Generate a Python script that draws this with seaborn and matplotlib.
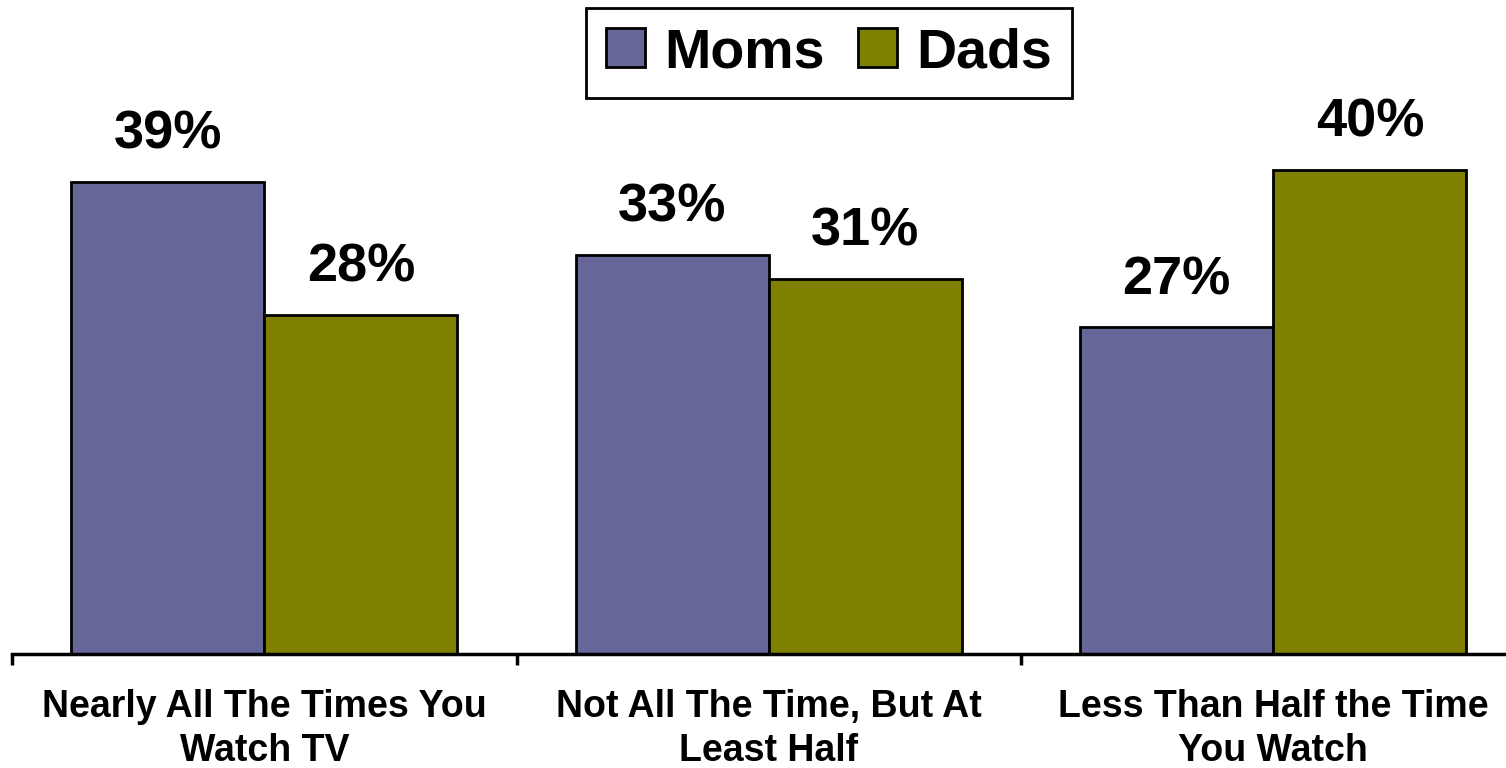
import matplotlib
matplotlib.use("Agg")
import matplotlib.pyplot as plt
import seaborn as sns
import pandas as pd
from matplotlib.patches import Patch

categories = [
    "Nearly All The Times You\nWatch TV",
    "Not All The Time, But At\nLeast Half",
    "Less Than Half the Time\nYou Watch",
]
series = ["Moms", "Dads"]
moms = [39, 33, 27]
dads = [28, 31, 40]
colors = {"Moms": "#666699", "Dads": "#808000"}

df = pd.DataFrame({
    "category": categories * 2,
    "group": ["Moms"] * 3 + ["Dads"] * 3,
    "value": moms + dads,
})

sns.set_theme(style="white")
plt.rcParams["font.family"] = ["Liberation Sans", "DejaVu Sans"]
plt.rcParams["font.weight"] = "bold"
plt.rcParams["text.color"] = "black"
plt.rcParams["xtick.color"] = "black"
plt.rcParams["xtick.labelcolor"] = "black"

W, H = 1506, 768
fig = plt.figure(figsize=(W / 100, H / 100), dpi=100)
ax = fig.add_axes([12 / W, (H - 654) / H, 1513.5 / W, 605 / H])

sns.barplot(data=df, x="category", y="value", hue="group", order=categories,
            hue_order=series, palette=colors, width=0.766, dodge=True,
            edgecolor="black", linewidth=2, saturation=1, ax=ax, legend=False)

ax.set_xlim(-0.5, 2.5)
ax.set_ylim(0, 50)
ax.set_xlabel("")
ax.set_ylabel("")
ax.set_yticks([])
ax.set_xticks([-0.5, 0.5, 1.5, 2.5], minor=True)
ax.set_xticks([0, 1, 2])
ax.set_xticklabels(categories, fontsize=27, fontweight="bold", linespacing=1.3,
                   color="black")
ax.tick_params(axis="x", which="major", length=0, pad=25)
ax.tick_params(axis="x", which="minor", length=8, width=2.5, color="black",
               direction="out", bottom=True)
for side in ["top", "right", "left"]:
    ax.spines[side].set_visible(False)
ax.spines["bottom"].set_color("black")
ax.spines["bottom"].set_linewidth(2.5)

for container in ax.containers:
    ax.bar_label(container, labels=[f"{v:.0f}%" for v in container.datavalues],
                 padding=16, fontsize=39, fontweight="bold", color="black")

handles = [Patch(facecolor=colors[s], edgecolor="black", linewidth=2, label=s)
           for s in series]
leg = fig.legend(handles=handles, loc="center", bbox_to_anchor=(829 / W, 1 - 53 / H),
                 ncol=2, frameon=True, fancybox=False,
                 prop={"weight": "bold", "size": 40}, handlelength=0.7,
                 handleheight=0.7, handletextpad=0.35, columnspacing=0.6,
                 borderpad=0.35, borderaxespad=0, labelcolor="black")
leg.get_frame().set_edgecolor("black")
leg.get_frame().set_linewidth(2)
leg.get_frame().set_alpha(1)

fig.savefig("out.png", dpi=100)
